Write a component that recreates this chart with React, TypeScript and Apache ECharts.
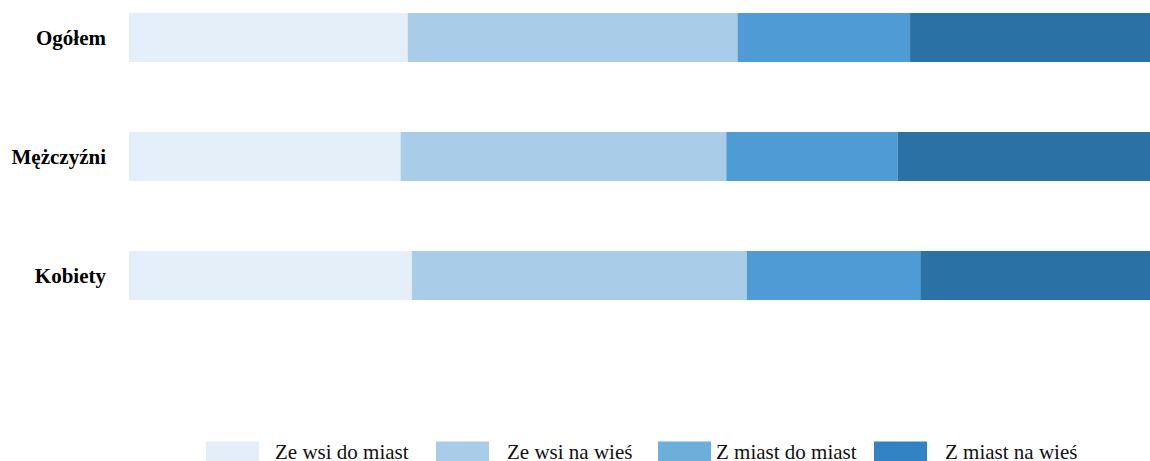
import React, { useEffect, useRef } from "react";
import * as echarts from "echarts";

const categories = ["Ogółem", "Mężczyźni", "Kobiety"];
const seriesNames = ["Ze wsi do miast", "Ze wsi na wieś", "Z miast do miast", "Z miast na wieś"];
const zeWsiDoMiast = [27.3, 26.6, 27.7];
const zeWsiNaWies = [32.3, 31.9, 32.8];
const zMiastDoMiast = [16.9, 16.8, 17.0];
const zMiastNaWies = [23.5, 24.7, 22.5];
const seriesValues = [zeWsiDoMiast, zeWsiNaWies, zMiastDoMiast, zMiastNaWies];

const barColors = ["#e5eff9", "#a9cde9", "#4f9bd5", "#2a71a5"];
const legendColors = ["#e3eef8", "#a9cde9", "#6eaedb", "#3183c4"];
const legendLefts = [206, 436, 658, 874];
const legendTextPad = [11, 13, 0, 13];

export default function App() {
  const ref = useRef<HTMLDivElement>(null);
  useEffect(() => {
    if (!ref.current) return;
    const chart = echarts.init(ref.current, undefined, { renderer: "svg" });
    const font = '"Liberation Serif", "Times New Roman", serif';
    chart.setOption({
      animation: false,
      backgroundColor: "#ffffff",
      grid: { left: 129, right: 0, top: 37.5, height: 238, containLabel: false },
      xAxis: { type: "value", min: 0, max: 100, show: false },
      yAxis: {
        type: "category",
        data: categories,
        inverse: true,
        boundaryGap: false,
        axisLine: { show: false },
        axisTick: { show: false },
        splitLine: { show: false },
        axisLabel: {
          margin: 23,
          fontFamily: font,
          fontWeight: "bold",
          fontSize: 21,
          color: "#000000",
        },
      },
      legend: seriesNames.map((n, i) => ({
        data: [{ name: n, itemStyle: { color: legendColors[i] } }],
        left: legendLefts[i],
        top: 441,
        padding: 0,
        itemWidth: 53,
        itemHeight: 20,
        icon: "rect",
        selectedMode: false,
        textStyle: {
          fontFamily: font,
          fontSize: 21,
          color: "#111111",
          padding: [0, 0, 0, legendTextPad[i]],
        },
      })),
      series: seriesNames.map((n, i) => ({
        name: n,
        type: "bar",
        stack: "total",
        barWidth: 49,
        data: seriesValues[i],
        itemStyle: { color: barColors[i] },
        emphasis: { disabled: true },
      })),
    });
    return () => chart.dispose();
  }, []);
  return (
    <div
      ref={ref}
      style={{ position: "absolute", left: 0, top: 0, width: 1150, height: 461 }}
    />
  );
}
